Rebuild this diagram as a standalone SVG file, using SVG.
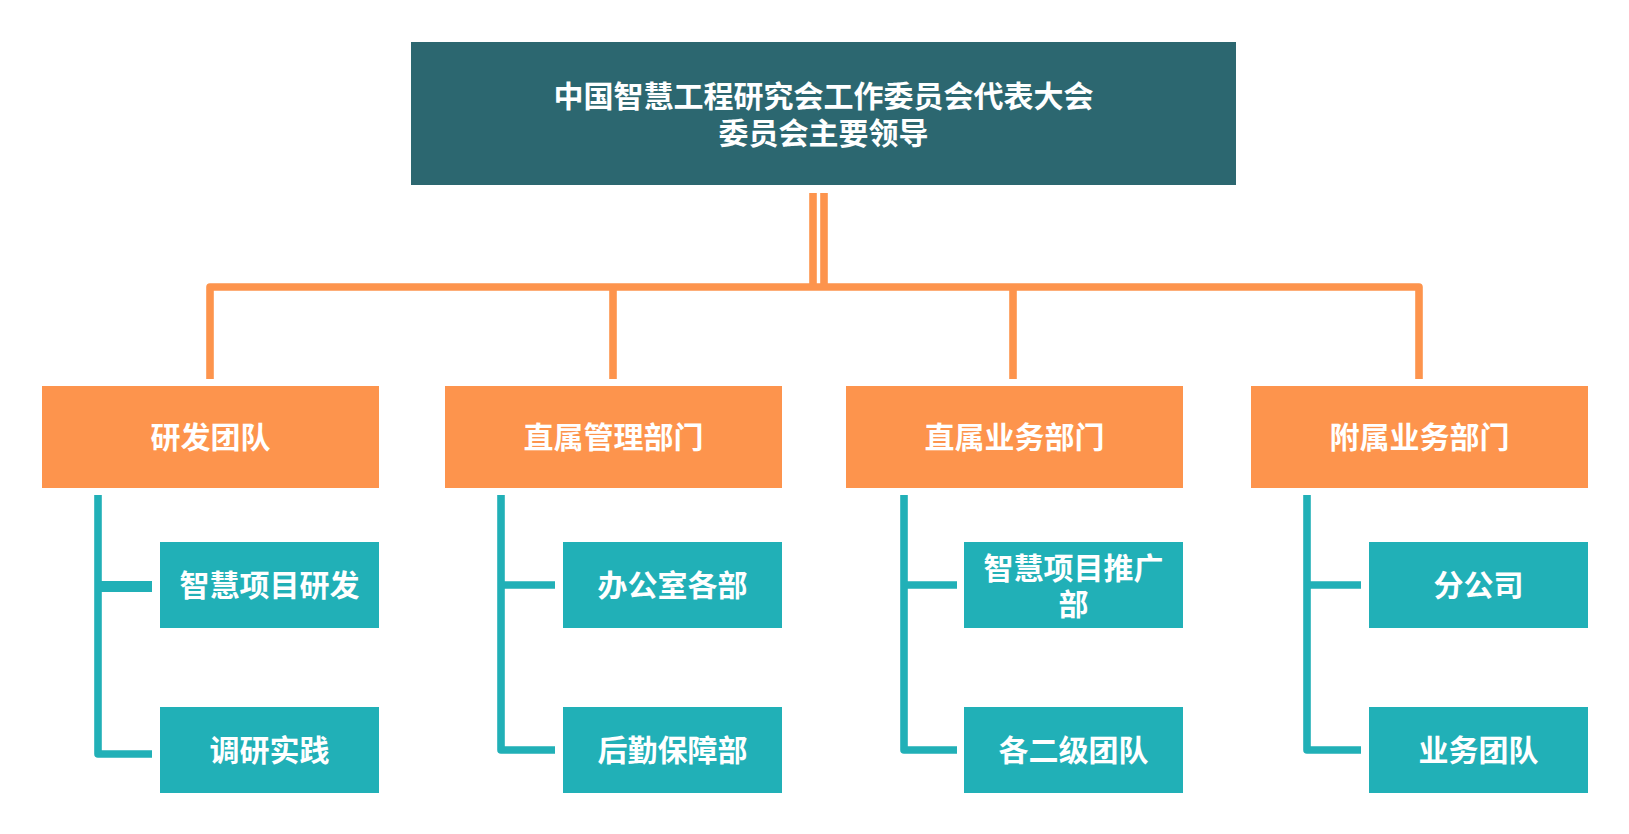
<svg xmlns="http://www.w3.org/2000/svg" width="1629" height="834" viewBox="0 0 1629 834">
<style>
.t{font-family:"Noto Sans CJK SC","Liberation Sans",sans-serif;font-weight:700;font-size:30px;fill:#ffffff;text-anchor:middle}
.top{fill:#2C6770}
.org{fill:#FD944D}
.teal{fill:#21B0B7}
.oc{fill:none;stroke:#FD944D;stroke-width:7.6;stroke-linejoin:round}
.tc{fill:none;stroke:#21B0B7;stroke-width:7.6;stroke-linejoin:round}
</style>
<rect width="1629" height="834" fill="#ffffff"/>
<g id="connectors">
<path class="oc" d="M813 193 V287 M824 193 V287"/>
<path class="oc" d="M210 379 V287 H1419 V379"/>
<path class="oc" d="M613 287 V379 M1013 287 V379"/>
<path class="tc" d="M98 495 V754 H152"/>
<path class="tc" d="M98 586.5 H152" style="stroke-width:11"/>
<path class="tc" d="M501 495 V750 H555 M501 585 H555"/>
<path class="tc" d="M904 495 V750 H957 M904 585 H957"/>
<path class="tc" d="M1307 495 V750 H1361 M1307 585 H1361"/>
</g>
<g id="n-top">
<rect class="top" x="411" y="42" width="825" height="143"/>
<text class="t"><tspan x="823.5" y="107">中国智慧工程研究会工作委员会代表大会</tspan><tspan x="823.5" y="143.5">委员会主要领导</tspan></text>
</g>
<g id="n-yanfa">
<rect class="org" x="42" y="386" width="337" height="102"/>
<text class="t" x="210.5" y="448">研发团队</text>
</g>
<g id="n-guanli">
<rect class="org" x="445" y="386" width="337" height="102"/>
<text class="t" x="613.5" y="448">直属管理部门</text>
</g>
<g id="n-yewu">
<rect class="org" x="846" y="386" width="337" height="102"/>
<text class="t" x="1014.5" y="448">直属业务部门</text>
</g>
<g id="n-fushu">
<rect class="org" x="1251" y="386" width="337" height="102"/>
<text class="t" x="1419.5" y="448">附属业务部门</text>
</g>
<g id="n-c1a">
<rect class="teal" x="160" y="542" width="219" height="86"/>
<text class="t" x="269.5" y="596">智慧项目研发</text>
</g>
<g id="n-c1b">
<rect class="teal" x="160" y="707" width="219" height="86"/>
<text class="t" x="269.5" y="761">调研实践</text>
</g>
<g id="n-c2a">
<rect class="teal" x="563" y="542" width="219" height="86"/>
<text class="t" x="672.5" y="596">办公室各部</text>
</g>
<g id="n-c2b">
<rect class="teal" x="563" y="707" width="219" height="86"/>
<text class="t" x="672.5" y="761">后勤保障部</text>
</g>
<g id="n-c3a">
<rect class="teal" x="964" y="542" width="219" height="86"/>
<text class="t"><tspan x="1073.5" y="579">智慧项目推广</tspan><tspan x="1073.5" y="615">部</tspan></text>
</g>
<g id="n-c3b">
<rect class="teal" x="964" y="707" width="219" height="86"/>
<text class="t" x="1073.5" y="761">各二级团队</text>
</g>
<g id="n-c4a">
<rect class="teal" x="1369" y="542" width="219" height="86"/>
<text class="t" x="1478.5" y="596">分公司</text>
</g>
<g id="n-c4b">
<rect class="teal" x="1369" y="707" width="219" height="86"/>
<text class="t" x="1478.5" y="761">业务团队</text>
</g>
</svg>
